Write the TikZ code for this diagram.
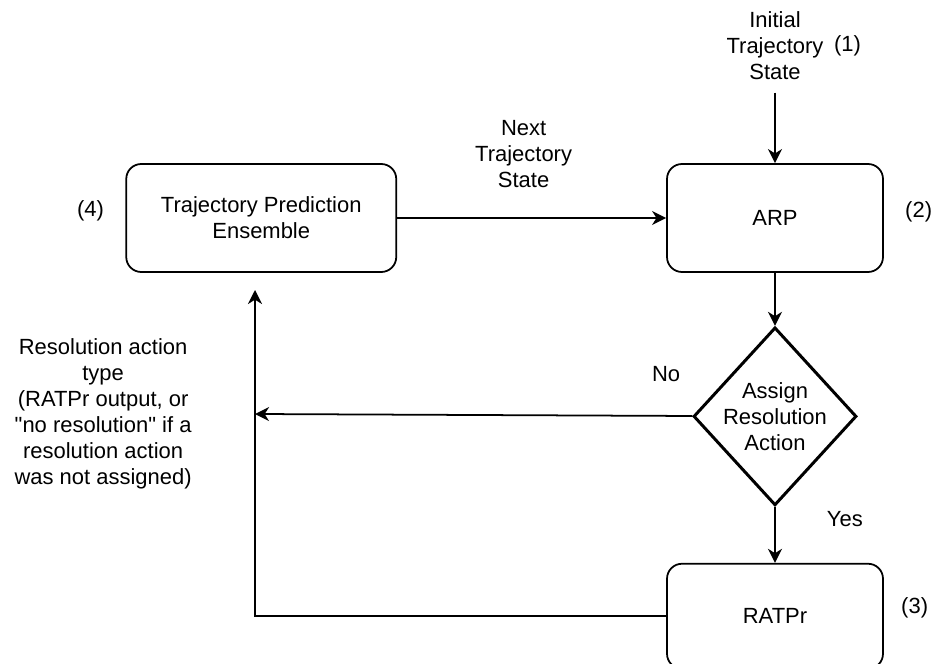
\documentclass[tikz,border=0pt]{standalone}
\usepackage{fontspec}
\setmainfont{Liberation Sans}
\usetikzlibrary{positioning,arrows.meta,shapes.geometric}

\begin{document}
\begin{tikzpicture}[
      >={Stealth[length=8pt,width=8pt,inset=2.5pt]},
      every node/.style={font=\fontsize{12.5}{14.8}\selectfont},
      box/.style={draw,rectangle,rounded corners=0.3cm,line width=1pt,
                  minimum width=4.32cm,minimum height=2.16cm,align=center},
      decision/.style={draw,diamond,line width=1.7pt,inner sep=-2pt,
                  minimum width=3.26cm,minimum height=3.56cm,align=center},
      msg/.style={->, line width=1pt},
      lbl/.style={draw=none,inner sep=0pt,align=center}
    ]
    % page size of the reference
    \useasboundingbox (0,0) rectangle (18.62,13.28);

    % Main components
    \node[box] (arp) at (15.5,8.92) {ARP};
    \node[box, minimum width=5.4cm, left=5.38cm of arp] (tpe) {Trajectory Prediction\\Ensemble};
    \node[decision, below=1.06cm of arp] (assign) {Assign\\Resolution\\Action};
    \node[box, minimum height=2.1cm, below=1.12cm of assign] (ratpr) {RATPr};

    % Input and step numbers
    \node[lbl, above=1.66cm of arp] (init) {Initial\\Trajectory\\State};
    \node[lbl, right=0.2cm of init] (num1) {(1)};
    \node[lbl, right=0.42cm of arp, yshift=0.12cm] (num2) {(2)};
    \node[lbl, right=0.34cm of ratpr, yshift=0.16cm] (num3) {(3)};
    \node[lbl, left=0.42cm of tpe, yshift=0.14cm] (num4) {(4)};

    % Free ends of the feedback lines
    \coordinate (nores) at (5.1,5.0);
    \coordinate (fbtip) at (5.1,7.48);

    % Draw connections
    \draw[msg, shorten <=0.25cm] (init) -- (arp);
    \draw[msg] (tpe) -- node[lbl, above=0.58cm, xshift=-0.16cm] (next) {Next\\Trajectory\\State} (arp);
    \draw[msg] (arp) -- (assign);
    \draw[msg] (assign) -- node[lbl, pos=0.21, right=1.02cm] (yes) {Yes} (ratpr);
    \draw[msg] (assign) -- node[lbl, pos=0.06, above=0.66cm] (no) {No} (nores);
    \node[lbl, left=1.26cm of nores] (restype) {Resolution action\\type\\(RATPr output, or\\\textquotedbl no resolution\textquotedbl{} if a\\resolution action\\was not assigned)};

    % Feedback to the ensemble
    \draw[msg] (ratpr) -| (fbtip);

  \end{tikzpicture}
\end{document}
